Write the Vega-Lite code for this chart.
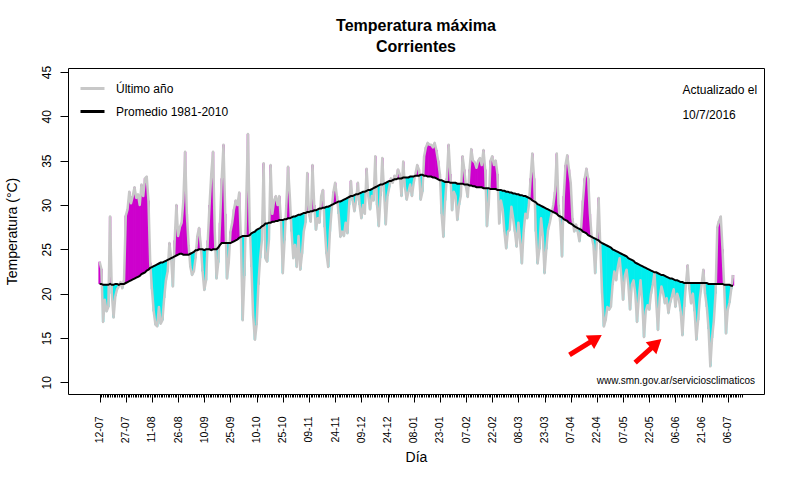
{
"$schema": "https://vega.github.io/schema/vega-lite/v6.json",
"width": 696, "height": 326,
"autosize": "none",
"padding": {"left": 68, "top": 68, "right": 36, "bottom": 86},
"background": "white",
"config": {"font": "Liberation Sans", "view": {"stroke": "black", "strokeWidth": 1}, "axis": {"labelFont": "Liberation Sans", "titleFont": "Liberation Sans", "labelColor": "black", "titleColor": "black", "tickColor": "black"}},
"title": {"text": ["Temperatura máxima", "Corrientes"], "fontSize": 16, "fontWeight": "bold", "font": "Liberation Sans", "anchor": "middle", "frame": "group", "offset": 10, "lineHeight": 21, "color": "black"},
"data": {"values": [
{"d":0,"t":23.6,"c":21.1},{"d":1,"t":22.8,"c":21.1},{"d":2,"t":16.8,"c":21.0},{"d":3,"t":19.3,"c":21.0},{"d":4,"t":18.0,"c":21.0},{"d":5,"t":18.5,"c":21.0},{"d":6,"t":28.7,"c":21.1},{"d":7,"t":20.0,"c":21.0},{"d":8,"t":17.3,"c":21.0},{"d":9,"t":19.7,"c":21.1},
{"d":10,"t":20.5,"c":21.1},{"d":11,"t":20.8,"c":21.0},{"d":12,"t":21.3,"c":21.1},{"d":13,"t":20.6,"c":21.1},{"d":14,"t":21.5,"c":21.1},{"d":15,"t":28.8,"c":21.2},{"d":16,"t":29.5,"c":21.3},{"d":17,"t":31.5,"c":21.4},{"d":18,"t":30.2,"c":21.5},{"d":19,"t":31.0,"c":21.6},
{"d":20,"t":32.0,"c":21.7},{"d":21,"t":30.8,"c":21.8},{"d":22,"t":31.2,"c":21.9},{"d":23,"t":30.0,"c":22.0},{"d":24,"t":32.3,"c":22.2},{"d":25,"t":31.0,"c":22.3},{"d":26,"t":33.0,"c":22.4},{"d":27,"t":33.2,"c":22.6},{"d":28,"t":30.5,"c":22.7},{"d":29,"t":23.5,"c":22.9},
{"d":30,"t":20.5,"c":23.0},{"d":31,"t":18.0,"c":23.1},{"d":32,"t":16.5,"c":23.2},{"d":33,"t":16.3,"c":23.3},{"d":34,"t":18.5,"c":23.4},{"d":35,"t":16.6,"c":23.5},{"d":36,"t":17.0,"c":23.5},{"d":37,"t":19.5,"c":23.6},{"d":38,"t":21.5,"c":23.7},{"d":39,"t":22.5,"c":23.8},
{"d":40,"t":25.7,"c":23.9},{"d":41,"t":24.0,"c":24.0},{"d":42,"t":20.8,"c":24.1},{"d":43,"t":26.0,"c":24.2},{"d":44,"t":30.0,"c":24.3},{"d":45,"t":26.5,"c":24.4},{"d":46,"t":27.5,"c":24.5},{"d":47,"t":28.0,"c":24.5},{"d":48,"t":30.5,"c":24.4},{"d":49,"t":36.0,"c":24.4},
{"d":50,"t":29.0,"c":24.4},{"d":51,"t":25.5,"c":24.4},{"d":52,"t":23.0,"c":24.5},{"d":53,"t":22.1,"c":24.6},{"d":54,"t":22.5,"c":24.7},{"d":55,"t":24.0,"c":24.9},{"d":56,"t":26.5,"c":24.9},{"d":57,"t":27.4,"c":25.0},{"d":58,"t":25.5,"c":25.0},{"d":59,"t":22.5,"c":25.0},
{"d":60,"t":20.4,"c":24.9},{"d":61,"t":21.5,"c":25.0},{"d":62,"t":26.0,"c":25.0},{"d":63,"t":30.0,"c":25.0},{"d":64,"t":33.5,"c":24.9},{"d":65,"t":36.0,"c":25.0},{"d":66,"t":27.0,"c":25.0},{"d":67,"t":21.7,"c":25.0},{"d":68,"t":23.5,"c":25.2},{"d":69,"t":28.0,"c":25.5},
{"d":70,"t":33.0,"c":25.7},{"d":71,"t":36.8,"c":25.7},{"d":72,"t":29.0,"c":25.7},{"d":73,"t":21.7,"c":25.7},{"d":74,"t":23.5,"c":25.7},{"d":75,"t":27.0,"c":25.7},{"d":76,"t":28.0,"c":25.8},{"d":77,"t":29.5,"c":25.9},{"d":78,"t":30.5,"c":26.0},{"d":79,"t":30.0,"c":26.1},
{"d":80,"t":31.4,"c":26.3},{"d":81,"t":26.0,"c":26.4},{"d":82,"t":17.0,"c":26.5},{"d":83,"t":22.0,"c":26.5},{"d":84,"t":30.0,"c":26.5},{"d":85,"t":38.0,"c":26.5},{"d":86,"t":28.0,"c":26.6},{"d":87,"t":23.0,"c":26.8},{"d":88,"t":17.5,"c":26.9},{"d":89,"t":14.8,"c":27.0},
{"d":90,"t":16.5,"c":27.2},{"d":91,"t":21.0,"c":27.3},{"d":92,"t":24.0,"c":27.4},{"d":93,"t":26.0,"c":27.6},{"d":94,"t":34.7,"c":27.7},{"d":95,"t":24.0,"c":27.9},{"d":96,"t":23.6,"c":27.9},{"d":97,"t":26.0,"c":28.0},{"d":98,"t":34.5,"c":28.0},{"d":99,"t":29.0,"c":28.1},
{"d":100,"t":30.5,"c":28.1},{"d":101,"t":31.0,"c":28.2},{"d":102,"t":30.0,"c":28.2},{"d":103,"t":31.0,"c":28.3},{"d":104,"t":28.0,"c":28.3},{"d":105,"t":22.3,"c":28.3},{"d":106,"t":26.0,"c":28.4},{"d":107,"t":30.0,"c":28.4},{"d":108,"t":34.3,"c":28.5},{"d":109,"t":31.0,"c":28.5},
{"d":110,"t":27.0,"c":28.6},{"d":111,"t":24.0,"c":28.7},{"d":112,"t":25.5,"c":28.7},{"d":113,"t":23.0,"c":28.8},{"d":114,"t":26.5,"c":28.9},{"d":115,"t":22.7,"c":28.9},{"d":116,"t":24.5,"c":29.0},{"d":117,"t":27.0,"c":29.1},{"d":118,"t":28.0,"c":29.1},{"d":119,"t":33.6,"c":29.2},
{"d":120,"t":29.0,"c":29.2},{"d":121,"t":28.1,"c":29.3},{"d":122,"t":34.5,"c":29.3},{"d":123,"t":30.0,"c":29.4},{"d":124,"t":27.2,"c":29.4},{"d":125,"t":28.5,"c":29.5},{"d":126,"t":28.0,"c":29.6},{"d":127,"t":31.0,"c":29.6},{"d":128,"t":31.7,"c":29.7},{"d":129,"t":27.5,"c":29.7},
{"d":130,"t":24.5,"c":29.8},{"d":131,"t":23.0,"c":29.8},{"d":132,"t":27.0,"c":29.9},{"d":133,"t":29.5,"c":30.0},{"d":134,"t":31.5,"c":30.1},{"d":135,"t":32.5,"c":30.2},{"d":136,"t":31.0,"c":30.3},{"d":137,"t":29.0,"c":30.4},{"d":138,"t":26.4,"c":30.4},{"d":139,"t":27.0,"c":30.5},
{"d":140,"t":26.5,"c":30.6},{"d":141,"t":28.0,"c":30.7},{"d":142,"t":26.8,"c":30.8},{"d":143,"t":30.0,"c":30.9},{"d":144,"t":32.7,"c":31.0},{"d":145,"t":30.5,"c":31.0},{"d":146,"t":29.3,"c":31.1},{"d":147,"t":30.5,"c":31.2},{"d":148,"t":32.5,"c":31.2},{"d":149,"t":30.0,"c":31.3},
{"d":150,"t":28.5,"c":31.4},{"d":151,"t":30.0,"c":31.5},{"d":152,"t":29.0,"c":31.5},{"d":153,"t":34.1,"c":31.6},{"d":154,"t":31.0,"c":31.7},{"d":155,"t":29.5,"c":31.7},{"d":156,"t":31.0,"c":31.8},{"d":157,"t":30.5,"c":31.9},{"d":158,"t":35.5,"c":32.0},{"d":159,"t":30.0,"c":32.1},
{"d":160,"t":27.6,"c":32.2},{"d":161,"t":31.0,"c":32.3},{"d":162,"t":35.3,"c":32.3},{"d":163,"t":31.5,"c":32.4},{"d":164,"t":27.8,"c":32.5},{"d":165,"t":31.0,"c":32.6},{"d":166,"t":32.0,"c":32.7},{"d":167,"t":33.0,"c":32.7},{"d":168,"t":32.5,"c":32.8},{"d":169,"t":33.3,"c":32.9},
{"d":170,"t":33.0,"c":32.9},{"d":171,"t":34.0,"c":33.0},{"d":172,"t":33.5,"c":33.0},{"d":173,"t":31.0,"c":33.0},{"d":174,"t":34.9,"c":33.1},{"d":175,"t":32.0,"c":33.1},{"d":176,"t":30.6,"c":33.1},{"d":177,"t":31.5,"c":33.1},{"d":178,"t":32.3,"c":33.2},{"d":179,"t":31.0,"c":33.2},
{"d":180,"t":32.5,"c":33.2},{"d":181,"t":33.5,"c":33.3},{"d":182,"t":34.5,"c":33.3},{"d":183,"t":34.0,"c":33.3},{"d":184,"t":30.6,"c":33.4},{"d":185,"t":31.5,"c":33.4},{"d":186,"t":35.5,"c":33.3},{"d":187,"t":36.5,"c":33.3},{"d":188,"t":37.0,"c":33.2},{"d":189,"t":36.8,"c":33.2},
{"d":190,"t":36.8,"c":33.2},{"d":191,"t":36.5,"c":33.1},{"d":192,"t":37.0,"c":33.1},{"d":193,"t":36.2,"c":33.0},{"d":194,"t":35.0,"c":32.9},{"d":195,"t":33.5,"c":32.8},{"d":196,"t":29.0,"c":32.8},{"d":197,"t":26.4,"c":32.7},{"d":198,"t":30.5,"c":32.6},{"d":199,"t":33.0,"c":32.6},
{"d":200,"t":36.8,"c":32.6},{"d":201,"t":33.5,"c":32.5},{"d":202,"t":29.4,"c":32.5},{"d":203,"t":31.5,"c":32.5},{"d":204,"t":31.0,"c":32.5},{"d":205,"t":28.3,"c":32.4},{"d":206,"t":30.0,"c":32.4},{"d":207,"t":31.0,"c":32.4},{"d":208,"t":35.5,"c":32.4},{"d":209,"t":34.0,"c":32.3},
{"d":210,"t":32.0,"c":32.3},{"d":211,"t":30.9,"c":32.3},{"d":212,"t":34.0,"c":32.2},{"d":213,"t":36.3,"c":32.2},{"d":214,"t":35.0,"c":32.1},{"d":215,"t":34.8,"c":32.1},{"d":216,"t":34.2,"c":32.0},{"d":217,"t":35.0,"c":32.0},{"d":218,"t":35.3,"c":32.0},{"d":219,"t":34.5,"c":32.0},
{"d":220,"t":36.2,"c":31.9},{"d":221,"t":34.0,"c":31.9},{"d":222,"t":27.6,"c":31.9},{"d":223,"t":30.0,"c":31.9},{"d":224,"t":35.0,"c":31.8},{"d":225,"t":35.5,"c":31.8},{"d":226,"t":34.5,"c":31.8},{"d":227,"t":35.0,"c":31.8},{"d":228,"t":33.5,"c":31.7},{"d":229,"t":27.9,"c":31.7},
{"d":230,"t":30.5,"c":31.7},{"d":231,"t":29.5,"c":31.6},{"d":232,"t":27.0,"c":31.6},{"d":233,"t":25.1,"c":31.5},{"d":234,"t":27.0,"c":31.5},{"d":235,"t":27.2,"c":31.4},{"d":236,"t":29.8,"c":31.4},{"d":237,"t":28.5,"c":31.3},{"d":238,"t":27.0,"c":31.3},{"d":239,"t":25.3,"c":31.2},
{"d":240,"t":28.0,"c":31.2},{"d":241,"t":26.0,"c":31.1},{"d":242,"t":23.4,"c":31.1},{"d":243,"t":27.0,"c":31.0},{"d":244,"t":29.0,"c":31.0},{"d":245,"t":28.5,"c":30.9},{"d":246,"t":30.0,"c":30.8},{"d":247,"t":33.0,"c":30.7},{"d":248,"t":35.8,"c":30.5},{"d":249,"t":33.0,"c":30.4},
{"d":250,"t":27.0,"c":30.3},{"d":251,"t":23.4,"c":30.1},{"d":252,"t":25.0,"c":30.0},{"d":253,"t":28.5,"c":29.9},{"d":254,"t":26.5,"c":29.8},{"d":255,"t":22.3,"c":29.7},{"d":256,"t":25.0,"c":29.6},{"d":257,"t":27.2,"c":29.5},{"d":258,"t":28.0,"c":29.4},{"d":259,"t":29.0,"c":29.3},
{"d":260,"t":30.0,"c":29.2},{"d":261,"t":31.5,"c":29.1},{"d":262,"t":35.8,"c":29.0},{"d":263,"t":30.0,"c":28.8},{"d":264,"t":28.0,"c":28.7},{"d":265,"t":24.2,"c":28.6},{"d":266,"t":31.0,"c":28.4},{"d":267,"t":34.5,"c":28.3},{"d":268,"t":35.6,"c":28.2},{"d":269,"t":34.0,"c":28.0},
{"d":270,"t":32.5,"c":27.9},{"d":271,"t":28.5,"c":27.8},{"d":272,"t":27.0,"c":27.6},{"d":273,"t":27.8,"c":27.5},{"d":274,"t":27.0,"c":27.4},{"d":275,"t":25.9,"c":27.3},{"d":276,"t":27.5,"c":27.2},{"d":277,"t":30.5,"c":27.0},{"d":278,"t":33.0,"c":26.9},{"d":279,"t":34.1,"c":26.8},
{"d":280,"t":33.0,"c":26.6},{"d":281,"t":29.0,"c":26.5},{"d":282,"t":26.4,"c":26.4},{"d":283,"t":25.5,"c":26.3},{"d":284,"t":22.3,"c":26.2},{"d":285,"t":26.0,"c":26.1},{"d":286,"t":30.8,"c":26.0},{"d":287,"t":25.0,"c":25.8},{"d":288,"t":20.0,"c":25.7},{"d":289,"t":16.3,"c":25.6},
{"d":290,"t":17.0,"c":25.5},{"d":291,"t":18.5,"c":25.4},{"d":292,"t":18.2,"c":25.3},{"d":293,"t":18.5,"c":25.2},{"d":294,"t":21.0,"c":25.0},{"d":295,"t":22.5,"c":24.9},{"d":296,"t":21.5,"c":24.8},{"d":297,"t":23.0,"c":24.7},{"d":298,"t":24.0,"c":24.6},{"d":299,"t":22.0,"c":24.5},
{"d":300,"t":19.3,"c":24.4},{"d":301,"t":22.0,"c":24.3},{"d":302,"t":22.7,"c":24.2},{"d":303,"t":21.0,"c":24.0},{"d":304,"t":18.2,"c":23.9},{"d":305,"t":21.0,"c":23.8},{"d":306,"t":21.5,"c":23.7},{"d":307,"t":20.0,"c":23.5},{"d":308,"t":16.8,"c":23.4},{"d":309,"t":19.5,"c":23.3},
{"d":310,"t":21.5,"c":23.2},{"d":311,"t":19.0,"c":23.1},{"d":312,"t":15.1,"c":23.0},{"d":313,"t":18.0,"c":22.9},{"d":314,"t":18.7,"c":22.8},{"d":315,"t":18.2,"c":22.7},{"d":316,"t":20.0,"c":22.6},{"d":317,"t":21.0,"c":22.5},{"d":318,"t":22.3,"c":22.4},{"d":319,"t":19.0,"c":22.4},
{"d":320,"t":15.9,"c":22.3},{"d":321,"t":19.5,"c":22.2},{"d":322,"t":20.8,"c":22.1},{"d":323,"t":20.0,"c":22.1},{"d":324,"t":18.9,"c":22.0},{"d":325,"t":19.5,"c":21.9},{"d":326,"t":17.8,"c":21.8},{"d":327,"t":19.0,"c":21.7},{"d":328,"t":19.7,"c":21.7},{"d":329,"t":20.5,"c":21.6},
{"d":330,"t":18.5,"c":21.5},{"d":331,"t":20.0,"c":21.5},{"d":332,"t":19.3,"c":21.4},{"d":333,"t":18.0,"c":21.3},{"d":334,"t":15.3,"c":21.3},{"d":335,"t":18.5,"c":21.2},{"d":336,"t":21.0,"c":21.2},{"d":337,"t":23.2,"c":21.2},{"d":338,"t":20.5,"c":21.2},{"d":339,"t":18.9,"c":21.2},
{"d":340,"t":20.0,"c":21.2},{"d":341,"t":18.0,"c":21.2},{"d":342,"t":14.8,"c":21.2},{"d":343,"t":17.0,"c":21.2},{"d":344,"t":19.5,"c":21.2},{"d":345,"t":21.0,"c":21.2},{"d":346,"t":22.7,"c":21.2},{"d":347,"t":20.0,"c":21.2},{"d":348,"t":18.5,"c":21.2},{"d":349,"t":16.0,"c":21.1},
{"d":350,"t":11.8,"c":21.1},{"d":351,"t":15.0,"c":21.1},{"d":352,"t":16.9,"c":21.1},{"d":353,"t":20.0,"c":21.1},{"d":354,"t":27.5,"c":21.1},{"d":355,"t":28.2,"c":21.1},{"d":356,"t":28.7,"c":21.1},{"d":357,"t":25.0,"c":21.1},{"d":358,"t":20.5,"c":21.0},{"d":359,"t":15.5,"c":21.0},
{"d":360,"t":18.2,"c":21.0},{"d":361,"t":19.0,"c":21.0},{"d":362,"t":20.5,"c":20.9},{"d":363,"t":22.1,"c":20.9}
]},
"layer": [
{"mark": {"type": "bar", "size": 2.4, "orient": "vertical"},
 "encoding": {
  "x": {"field": "d", "type": "quantitative", "title": "Día",
        "scale": {"domain": [-15.25, 377.9], "nice": false, "zero": false},
        "axis": {"tickCount": 400, "domain": false, "grid": false,
                 "tickSize": {"condition": {"test": "datum.value % 15 === 0", "value": 8}, "value": 3},
                 "tickOpacity": {"condition": {"test": "datum.value < 0 || datum.value > 368", "value": 0}, "value": 1},
                 "labelExpr": "datum.value >= 0 && datum.value <= 360 && datum.value % 15 === 0 ? timeFormat(datetime(2015, 6, 12 + datum.value), '%d-%m') : ''",
                 "labelAngle": -90, "labelAlign": "right", "labelBaseline": "middle", "labelFontSize": 10.5, "labelPadding": 14,
                 "labelOverlap": false, "labelBound": false, "labelFlush": false,
                 "titleFontSize": 14, "titleFontWeight": "normal", "titlePadding": 8}},
  "y": {"field": "t", "type": "quantitative", "title": "Temperatura (°C)",
        "scale": {"domain": [8.68, 45.45], "nice": false, "zero": false},
        "axis": {"values": [10, 15, 20, 25, 30, 35, 40, 45], "domain": false, "grid": false, "tickSize": 8,
                 "labelAngle": -90, "labelAlign": "center", "labelBaseline": "bottom", "labelFontSize": 12, "labelPadding": 7,
                 "titleFontSize": 14, "titleFontWeight": "normal", "titlePadding": 21}},
  "y2": {"field": "c"},
  "color": {"condition": {"test": "datum.t >= datum.c", "value": "#CD00CD"}, "value": "#00EEEE"}
 }},
{"mark": {"type": "line", "strokeWidth": 2.5, "strokeJoin": "round"},
 "encoding": {
  "x": {"field": "d", "type": "quantitative", "title": "Día"},
  "y": {"field": "t", "type": "quantitative", "title": "Temperatura (°C)"},
  "color": {"datum": "Último año", "type": "nominal",
            "scale": {"domain": ["Último año", "Promedio 1981-2010"], "range": ["#C8C8C8", "#000000"]},
            "legend": {"title": null, "orient": "none", "legendX": 11, "legendY": 7, "symbolType": "stroke", "symbolSize": 576, "symbolStrokeWidth": 3, "labelFontSize": 12, "labelFont": "Liberation Sans", "labelColor": "black", "labelOffset": 10, "rowPadding": 3, "padding": 0}}
 }},
{"mark": {"type": "line", "strokeWidth": 2},
 "encoding": {
  "x": {"field": "d", "type": "quantitative", "title": "Día"},
  "y": {"field": "c", "type": "quantitative", "title": "Temperatura (°C)"},
  "color": {"datum": "Promedio 1981-2010", "type": "nominal"}
 }},
{"data": {"values": [{}]},
 "mark": {"type": "rule", "color": "#FF0000", "strokeWidth": 5},
 "encoding": {"x": {"datum": 269.3}, "y": {"datum": 13.08}, "x2": {"datum": 284.4}, "y2": {"datum": 14.93}}},
{"data": {"values": [{}]},
 "mark": {"type": "point", "shape": "triangle-up", "filled": true, "color": "#FF0000", "opacity": 1, "size": 256, "angle": 58.5, "strokeWidth": 0},
 "encoding": {"x": {"datum": 284.4}, "y": {"datum": 14.93}}},
{"data": {"values": [{}]},
 "mark": {"type": "rule", "color": "#FF0000", "strokeWidth": 5},
 "encoding": {"x": {"datum": 306.9}, "y": {"datum": 12.21}, "x2": {"datum": 319.0}, "y2": {"datum": 14.37}}},
{"data": {"values": [{}]},
 "mark": {"type": "point", "shape": "triangle-up", "filled": true, "color": "#FF0000", "opacity": 1, "size": 256, "angle": 48.4, "strokeWidth": 0},
 "encoding": {"x": {"datum": 319.0}, "y": {"datum": 14.37}}},
{"data": {"values": [{}]},
 "mark": {"type": "text", "align": "left", "baseline": "alphabetic", "fontSize": 12, "font": "Liberation Sans", "color": "black"},
 "encoding": {"x": {"datum": 334.0}, "y": {"datum": 42.56}, "text": {"value": "Actualizado el"}}},
{"data": {"values": [{}]},
 "mark": {"type": "text", "align": "left", "baseline": "alphabetic", "fontSize": 12, "font": "Liberation Sans", "color": "black"},
 "encoding": {"x": {"datum": 334.0}, "y": {"datum": 39.74}, "text": {"value": "10/7/2016"}}},
{"data": {"values": [{}]},
 "mark": {"type": "text", "align": "right", "baseline": "alphabetic", "fontSize": 10, "font": "Liberation Sans", "color": "black"},
 "encoding": {"x": {"datum": 375.6}, "y": {"datum": 9.81}, "text": {"value": "www.smn.gov.ar/serviciosclimaticos"}}}
]
}
